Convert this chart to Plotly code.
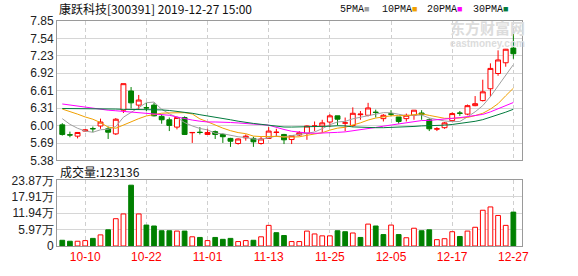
import plotly.graph_objects as go

dates = ["2019-09-30", "2019-10-08", "2019-10-09", "2019-10-10", "2019-10-11", "2019-10-14",
         "2019-10-15", "2019-10-16", "2019-10-17", "2019-10-18", "2019-10-21", "2019-10-22",
         "2019-10-23", "2019-10-24", "2019-10-25", "2019-10-28", "2019-10-29", "2019-10-30",
         "2019-10-31", "2019-11-01", "2019-11-04", "2019-11-05", "2019-11-06", "2019-11-07",
         "2019-11-08", "2019-11-11", "2019-11-12", "2019-11-13", "2019-11-14", "2019-11-15",
         "2019-11-18", "2019-11-19", "2019-11-20", "2019-11-21", "2019-11-22", "2019-11-25",
         "2019-11-26", "2019-11-27", "2019-11-28", "2019-11-29", "2019-12-02", "2019-12-03",
         "2019-12-04", "2019-12-05", "2019-12-06", "2019-12-09", "2019-12-10", "2019-12-11",
         "2019-12-12", "2019-12-13", "2019-12-16", "2019-12-17", "2019-12-18", "2019-12-19",
         "2019-12-20", "2019-12-23", "2019-12-24", "2019-12-25", "2019-12-26", "2019-12-27"]

opens = [6.01, 5.835, 5.81, 5.90, 5.945, 5.99, 5.94, 5.85, 6.27, 6.61,
         6.36, 6.315, 6.36, 6.16, 6.10, 5.97, 6.14, 5.87, 5.88, 5.84,
         5.89, 5.84, 5.77, 5.68, 5.78, 5.77, 5.68, 5.77, 5.875, 5.84,
         5.75, 5.83, 5.86, 5.985, 5.99, 6.06, 6.17, 6.04, 6.00, 6.19,
         6.18, 6.235, 6.12, 6.205, 6.15, 6.12, 6.18, 6.22, 6.10, 5.935,
         5.96, 6.085, 6.22, 6.20, 6.35, 6.44, 6.65, 6.92, 7.11, 7.37]
highs = [6.04, 5.89, 5.875, 5.93, 5.98, 6.12, 5.98, 6.13, 6.74, 6.68,
         6.54, 6.40, 6.40, 6.20, 6.14, 6.16, 6.16, 5.88, 5.97, 5.94,
         5.91, 5.86, 5.78, 5.77, 5.84, 5.80, 5.80, 5.97, 5.94, 5.85,
         5.82, 5.90, 6.00, 6.07, 6.10, 6.20, 6.17, 6.14, 6.32, 6.255,
         6.40, 6.28, 6.20, 6.27, 6.15, 6.21, 6.27, 6.27, 6.125, 5.97,
         6.06, 6.23, 6.255, 6.37, 6.52, 6.81, 7.10, 7.33, 7.355, 7.65]
lows = [5.82, 5.79, 5.77, 5.89, 5.88, 5.94, 5.76, 5.83, 6.22, 6.30,
        6.28, 6.25, 6.16, 6.03, 5.90, 5.93, 5.83, 5.69, 5.84, 5.83,
        5.76, 5.69, 5.62, 5.66, 5.73, 5.62, 5.66, 5.76, 5.80, 5.67,
        5.67, 5.81, 5.745, 5.90, 5.875, 5.97, 6.00, 5.90, 5.97, 6.10,
        6.16, 6.14, 6.07, 6.16, 6.03, 6.07, 6.10, 6.10, 5.90, 5.90,
        5.94, 6.07, 6.17, 6.18, 6.34, 6.425, 6.51, 6.88, 7.04, 7.18]
closes = [5.84, 5.83, 5.875, 5.92, 5.94, 6.06, 5.88, 6.11, 6.74, 6.40,
          6.45, 6.31, 6.17, 6.10, 6.00, 6.14, 5.84, 5.875, 5.875, 5.875,
          5.84, 5.80, 5.72, 5.76, 5.81, 5.71, 5.76, 5.90, 5.88, 5.745,
          5.82, 5.87, 5.99, 5.99, 6.045, 6.17, 6.11, 6.045, 6.215, 6.20,
          6.31, 6.23, 6.18, 6.20, 6.07, 6.18, 6.27, 6.20, 5.94, 5.94,
          6.045, 6.21, 6.215, 6.35, 6.385, 6.595, 7.01, 7.16, 7.35, 7.27]

ma5 = [6.12, 6.02, 5.95, 5.90, 5.879, 5.923, 5.933, 5.98, 6.146, 6.238,
       6.316, 6.402, 6.414, 6.286, 6.206, 6.144, 6.05, 5.991, 5.946, 5.921,
       5.861, 5.853, 5.822, 5.799, 5.786, 5.76, 5.752, 5.788, 5.812, 5.799,
       5.821, 5.843, 5.861, 5.883, 5.943, 6.013, 6.061, 6.072, 6.117, 6.148,
       6.176, 6.20, 6.227, 6.224, 6.198, 6.172, 6.18, 6.184, 6.132, 6.106,
       6.079, 6.067, 6.07, 6.152, 6.241, 6.351, 6.511, 6.70, 6.90, 7.077]
ma10 = [6.29, 6.25, 6.20, 6.15, 6.11, 6.05, 5.97, 5.95, 6.01, 6.059,
        6.12, 6.168, 6.197, 6.216, 6.222, 6.23, 6.226, 6.203, 6.116, 6.064,
        6.003, 5.952, 5.907, 5.873, 5.854, 5.811, 5.803, 5.805, 5.806, 5.793,
        5.791, 5.798, 5.825, 5.848, 5.871, 5.917, 5.952, 5.967, 6.00, 6.046,
        6.095, 6.131, 6.15, 6.171, 6.173, 6.174, 6.19, 6.206, 6.178, 6.152,
        6.126, 6.124, 6.127, 6.142, 6.174, 6.215, 6.289, 6.385, 6.526, 6.659]
ma20 = [6.38, 6.36, 6.34, 6.32, 6.30, 6.29, 6.27, 6.26, 6.25, 6.235,
        6.225, 6.215, 6.205, 6.195, 6.18, 6.15, 6.12, 6.095, 6.075, 6.061,
        6.061, 6.06, 6.052, 6.044, 6.038, 6.02, 6.014, 6.004, 5.961, 5.928,
        5.897, 5.875, 5.866, 5.86, 5.862, 5.864, 5.877, 5.886, 5.903, 5.919,
        5.943, 5.964, 5.987, 6.009, 6.022, 6.046, 6.071, 6.086, 6.089, 6.099,
        6.11, 6.127, 6.138, 6.156, 6.173, 6.195, 6.24, 6.295, 6.352, 6.406]
ma30 = [6.30, 6.30, 6.30, 6.295, 6.295, 6.29, 6.29, 6.29, 6.285, 6.285,
        6.285, 6.28, 6.28, 6.275, 6.265, 6.25, 6.235, 6.215, 6.19, 6.17,
        6.15, 6.125, 6.10, 6.075, 6.05, 6.035, 6.02, 6.005, 5.99, 5.972,
        5.971, 5.972, 5.976, 5.979, 5.982, 5.986, 5.994, 5.991, 5.974, 5.967,
        5.963, 5.96, 5.96, 5.964, 5.966, 5.967, 5.982, 5.992, 5.994, 5.997,
        6.004, 6.017, 6.034, 6.053, 6.073, 6.102, 6.144, 6.186, 6.235, 6.286]

volumes = [20800, 17300, 17300, 19600, 27700, 40400, 58800, 99200, 116500, 221000,
           116500, 76100, 72700, 55400, 55400, 54200, 54200, 33400, 31100, 19600,
           31100, 24200, 27700, 16100, 19600, 20800, 33400, 75000, 48400, 38100,
           16100, 16100, 54200, 43800, 36900, 36900, 55400, 51900, 47300, 31100,
           79600, 72700, 41500, 76100, 41500, 30000, 64600, 55400, 58800, 23100,
           26500, 51900, 34600, 54200, 68100, 130000, 142000, 111000, 75000, 123136]
vol_dir = ["d", "d", "u", "u", "d", "u", "d", "u", "u", "d",
           "u", "d", "d", "d", "d", "u", "d", "u", "d", "u",
           "d", "d", "d", "u", "u", "d", "u", "u", "d", "d",
           "u", "u", "u", "u", "u", "u", "d", "d", "u", "d",
           "u", "d", "d", "u", "d", "u", "u", "d", "d", "u",
           "u", "u", "d", "u", "u", "u", "u", "u", "u", "d"]

price_ticks = [5.38, 5.68875, 5.9975, 6.30625, 6.615, 6.92375, 7.2325, 7.54125, 7.85]
price_labels = ["5.38", "5.69", "6.00", "6.31", "6.61", "6.92", "7.23", "7.54", "7.85"]
vol_ticks = [0, 59675, 119350, 179025, 238700]
vol_labels = ["0", "5.97万", "11.94万", "17.91万", "23.87万"]
date_ticks = ["2019-10-10", "2019-10-22", "2019-11-01", "2019-11-13",
              "2019-11-25", "2019-12-05", "2019-12-17", "2019-12-27"]
date_labels = ["10-10", "10-22", "11-01", "11-13", "11-25", "12-05", "12-17", "12-27"]

title_text = "康跃科技[300391] 2019-12-27 15:00"
vol_title = "成交量:123136"
ma_names = ["5PMA", "10PMA", "20PMA", "30PMA"]

n = len(dates)
for arr in (opens, highs, lows, closes, ma5, ma10, ma20, ma30, volumes, vol_dir):
    assert len(arr) == n, len(arr)

RED = "#ff0000"
GREEN = "#008000"
MA_COLORS = ["#a0a0a0", "#f0a000", "#ff00ff", "#007a3d"]
GRID = "#d6d6d6"
FRAME = "#9a9a9a"

up_i = [i for i in range(n) if closes[i] >= opens[i]]
dn_i = [i for i in range(n) if closes[i] < opens[i]]


def pick(arr, idx):
    return [arr[i] for i in idx]


fig = go.Figure()

for idx, col, fill in ((up_i, RED, "white"), (dn_i, GREEN, GREEN)):
    style = dict(line=dict(color=col, width=1), fillcolor=fill)
    fig.add_trace(go.Candlestick(
        x=pick(dates, idx), open=pick(opens, idx), high=pick(highs, idx),
        low=pick(lows, idx), close=pick(closes, idx),
        increasing=style, decreasing=style, whiskerwidth=0,
        xaxis="x", yaxis="y", showlegend=False, hoverinfo="skip"))

for vals, col in zip((ma5, ma10, ma20, ma30), MA_COLORS):
    fig.add_trace(go.Scatter(x=dates, y=vals, mode="lines",
                             line=dict(color=col, width=1),
                             xaxis="x", yaxis="y", showlegend=False, hoverinfo="skip"))

vu = [i for i in range(n) if vol_dir[i] == "u"]
vd = [i for i in range(n) if vol_dir[i] == "d"]
fig.add_trace(go.Bar(x=pick(dates, vu), y=pick(volumes, vu), width=0.62,
                     marker=dict(color="white", line=dict(color=RED, width=1)),
                     xaxis="x2", yaxis="y2", showlegend=False, hoverinfo="skip"))
fig.add_trace(go.Bar(x=pick(dates, vd), y=pick(volumes, vd), width=0.62,
                     marker=dict(color=GREEN, line=dict(color=GREEN, width=1)),
                     xaxis="x2", yaxis="y2", showlegend=False, hoverinfo="skip"))

L, R, T, B = 55, 56, 21, 21
W, H = 578, 276
pw, ph = W - L - R, H - T - B


def px_x(px):
    return (px - L) / pw


def px_y(py):
    return (H - B - py) / ph


xrange_ = [-0.69, n - 1 + 1.13]
xcommon = dict(type="category", categoryorder="array", categoryarray=dates,
               range=xrange_, tickvals=date_ticks, ticktext=date_labels,
               showgrid=True, gridcolor="#cfcfcf", griddash="4px,3px", gridwidth=1,
               showline=True, mirror=True, linecolor=FRAME, linewidth=1,
               ticks="", zeroline=False, fixedrange=True)

fig.update_layout(
    width=W, height=H, margin=dict(l=L, r=R, t=T, b=B),
    paper_bgcolor="white", plot_bgcolor="white",
    boxgap=0.36, boxgroupgap=0, barmode="overlay",
    xaxis=dict(**xcommon, domain=[0, 1], anchor="y", showticklabels=False,
               rangeslider=dict(visible=False)),
    xaxis2=dict(**xcommon, domain=[0, 1], anchor="y2", showticklabels=True,
                tickfont=dict(family="Liberation Sans", size=12, color=RED)),
    yaxis=dict(domain=[px_y(166), 1], range=[5.38, 7.85], tickvals=price_ticks,
               ticktext=price_labels, showgrid=True, gridcolor=GRID, gridwidth=1,
               showline=True, mirror=True, linecolor=FRAME, linewidth=1, ticks="",
               zeroline=False, fixedrange=True,
               tickfont=dict(family="Liberation Sans", size=12, color="#222")),
    yaxis2=dict(domain=[0, px_y(186.7)], range=[0, 238700], tickvals=vol_ticks,
                ticktext=vol_labels, showgrid=True, gridcolor=GRID, gridwidth=1,
                showline=True, mirror=True, linecolor=FRAME, linewidth=1, ticks="",
                zeroline=False, fixedrange=True,
                tickfont=dict(family="Liberation Sans", size=12, color="#222")),
)

ann = []
ann.append(dict(text=title_text, x=px_x(55), y=px_y(8.5), xref="paper", yref="paper",
                xanchor="left", yanchor="middle", showarrow=False,
                font=dict(family="Noto Sans CJK SC", size=12, color="#111")))
ann.append(dict(text=vol_title, x=px_x(56), y=px_y(177), xref="paper", yref="paper",
                xanchor="left", yanchor="middle", showarrow=False,
                font=dict(family="Noto Sans CJK SC", size=12, color="#111")))
legend_x = [337, 379, 425, 471]
for name, col, lx in zip(ma_names, MA_COLORS, legend_x):
    ann.append(dict(text=name + "<span style='color:%s;font-size:9px'>■</span>" % col,
                    x=px_x(lx), y=px_y(8.8), xref="paper", yref="paper",
                    xanchor="left", yanchor="middle", showarrow=False,
                    font=dict(family="Liberation Mono", size=10, color="#111")))
ann.append(dict(text="<span style='font-size:15px'><b>东方财富网</b></span><br><b>eastmoney.com</b>",
                x=px_x(487.5), y=px_y(35.5), xref="paper", yref="paper",
                xanchor="center", yanchor="middle", showarrow=False, borderpad=0,
                font=dict(family="Liberation Sans, Noto Sans CJK SC", size=10, color="#dcdcdc")))
fig.update_layout(annotations=ann)

fig.write_html("out.html")
